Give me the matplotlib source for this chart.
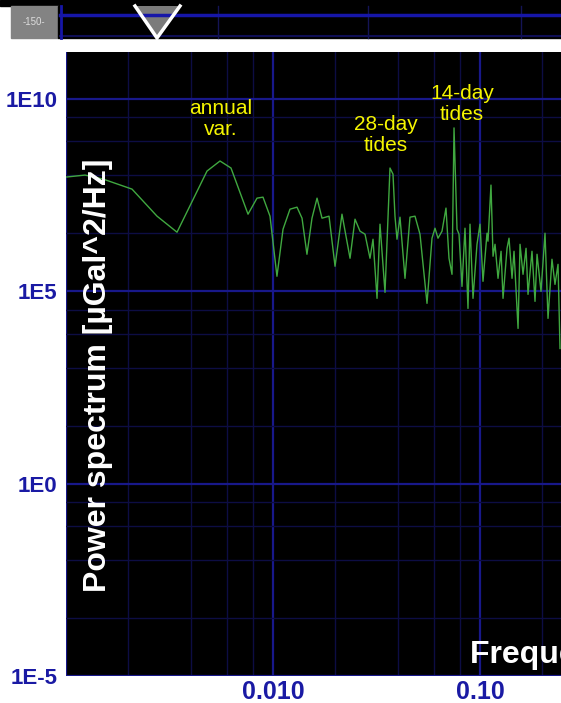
import numpy as np
import matplotlib
matplotlib.use("Agg")
from matplotlib import pyplot as plt
from matplotlib.patches import Rectangle, Polygon
from matplotlib.ticker import NullFormatter

plt.rcParams['font.family'] = ['Liberation Sans', 'DejaVu Sans']

# spectrum (frequency in cycles/day, power in uGal^2/Hz)
freq = [0.001000, 0.001235, 0.001510, 0.002084, 0.002753, 0.003438, 0.004800, 0.005546, 0.006267, 0.007574,
        0.008369, 0.008947, 0.009672, 0.01045, 0.01118, 0.01208, 0.01306, 0.01381, 0.01459, 0.01543,
        0.01632, 0.01725, 0.01865, 0.01994, 0.02154, 0.02356, 0.02490, 0.02633, 0.02783, 0.02942,
        0.03042, 0.03181, 0.03288, 0.03476, 0.03674, 0.03799, 0.03884, 0.03972, 0.04107, 0.04342,
        0.04590, 0.04853, 0.05130, 0.05546, 0.05863, 0.06062, 0.06268, 0.06553, 0.06850, 0.07083,
        0.07324, 0.07490, 0.07744, 0.07918, 0.08185, 0.08463, 0.08750, 0.08948, 0.09252, 0.09672,
        0.1000, 0.1034, 0.1081, 0.1093, 0.1130, 0.1156, 0.1182, 0.1222, 0.1264, 0.1292,
        0.1351, 0.1381, 0.1428, 0.1460, 0.1527, 0.1561, 0.1614, 0.1669, 0.1706, 0.1783,
        0.1844, 0.1886, 0.1971, 0.2061, 0.2131, 0.2227, 0.2303, 0.2382, 0.2435]
power = [9.14e7, 1.03e8, 8.11e7, 4.45e7, 8.81e6, 3.38e6, 1.31e8, 2.39e8, 1.57e8, 9.93e6,
         2.59e7, 2.75e7, 8.81e6, 2.42e5, 4.04e6, 1.34e7, 1.51e7, 7.82e6, 9.03e5, 7.82e6,
         2.59e7, 7.82e6, 8.81e6, 4.40e5, 9.93e6, 7.11e5, 7.36e6, 3.59e6, 3.00e6, 7.11e5,
         2.22e6, 6.46e4, 5.46e6, 9.25e4, 1.57e8, 1.09e8, 8.81e6, 2.22e6, 8.30e6, 2.14e5,
         8.30e6, 8.81e6, 3.00e6, 4.79e4, 2.36e6, 4.29e6, 2.36e6, 3.59e6, 1.43e7, 7.11e5,
         2.72e5, 1.73e9, 4.04e6, 3.00e6, 1.32e5, 4.29e6, 3.54e4, 5.46e6, 6.46e4, 1.64e6,
         5.46e6, 1.79e5, 3.18e6, 1.97e6, 5.66e7, 8.02e5, 1.64e6, 2.14e5, 1.08e6, 6.46e4,
         1.29e6, 2.36e6, 2.14e5, 1.08e6, 1.07e4, 1.64e6, 2.72e5, 1.29e6, 8.20e4, 1.08e6,
         5.40e4, 9.03e5, 9.82e4, 3.18e6, 1.95e4, 6.70e5, 1.49e5, 4.95e5, 3.22e3]

y_ticks = [1e-5, 1e0, 1e5, 1e10]
y_tick_labels = ["1E-5", "1E0", "1E5", "1E10"]
x_ticks = [0.01, 0.1]
x_tick_labels = ["0.010", "0.10"]

note_text = ["annual\nvar.", "28-day\ntides", "14-day\ntides"]
note_freq = [0.00561, 0.0352, 0.0818]
note_power = [2.95e9, 1.14e9, 7.2e9]

W, H = 561, 703
fig = plt.figure(figsize=(W / 100, H / 100), dpi=100)
fig.patch.set_facecolor("white")

ax = fig.add_axes([66 / W, (H - 676) / H, (W - 66) / W, (676 - 52) / H])
ax.set_facecolor("black")
ax.set_xscale("log")
ax.set_yscale("log")

# grid: majors at decades (x) / 5 decades (y), minors at 2,4,6,8 fractions
x_major = [0.001, 0.01, 0.1, 1.0]
x_minor = [k * d for d in [0.001, 0.01, 0.1] for k in [2, 4, 6, 8]]
y_minor = [10 ** (5 * n + 5 * np.log10(k)) for n in [-1, 0, 1, 2] for k in [2, 4, 6, 8]]
ax.set_xticks(x_major)
ax.set_xticks(x_minor, minor=True)
ax.set_yticks(y_ticks)
ax.set_yticks(y_minor, minor=True)
ax.xaxis.set_minor_formatter(NullFormatter())
ax.yaxis.set_minor_formatter(NullFormatter())
ax.grid(which="minor", color="#0d0d44", lw=1.0)
ax.grid(which="major", color="#18188a", lw=1.6)
ax.set_axisbelow(True)
ax.tick_params(which="both", length=0)
ax.set_xticklabels([])
ax.set_yticklabels(y_tick_labels, color="#1a1aa4", fontsize=16, fontweight="bold")
ax.tick_params(axis="y", pad=6)
for s in ax.spines.values():
    s.set_visible(False)

ax.plot(freq, power, color="#40a840", lw=1.0)

ax.set_xlim(0.001, 10 ** (-3 + 495 / 207))
ax.set_ylim(1e-5, 10 ** 11.21)

for t, f, p in zip(note_text, note_freq, note_power):
    ax.text(f, p, t, color="#f5f500", fontsize=15, ha="center", va="center", linespacing=1.1)

# x tick labels sit below the plot
for xt, lab in zip(x_ticks, x_tick_labels):
    ax.annotate(lab, xy=(xt, 1e-5), xytext=(0, -11.5), textcoords="offset points",
                ha="center", va="center", color="#1a1aa4", fontsize=18, fontweight="bold",
                annotation_clip=False)

fig.text(98 / W, 1 - 375 / H, "Power spectrum [\u00b5Gal^2/Hz]", rotation=90,
         ha="center", va="center", color="white", fontsize=23, fontweight="bold")
fig.text(470 / W, 1 - 655 / H, "Frequency [cycles/day]", ha="left", va="center",
         color="white", fontsize=23, fontweight="bold")

# top slider strip drawn in pixel coordinates
ov = fig.add_axes([0, 0, 1, 1])
ov.set_xlim(0, W)
ov.set_ylim(H, 0)
ov.axis("off")
ov.add_patch(Rectangle((0, 0), W, 6, color="black"))
ov.add_patch(Rectangle((11, 6), 47, 32, color="#838383"))
ov.text(34, 22, "-150-", color="#dddddd", fontsize=7, ha="center", va="center")
ov.add_patch(Rectangle((58, 6), W - 58, 32, color="black"))
for xv in [218, 368, 521]:
    ov.plot([xv, xv], [6, 38], color="#141455", lw=1)
ov.plot([60, W], [15, 15], color="#1616a8", lw=2.5)
ov.plot([60, W], [36, 36], color="#0e0e55", lw=1.5)
ov.plot([61, 61], [6, 38], color="#1616a8", lw=2)
ov.add_patch(Polygon([(135, 6), (180, 6), (157, 38)], closed=True, fc="#7b7b7b", ec="none"))
ov.plot([135, 157, 180], [6, 38, 6], color="white", lw=2.5, solid_joinstyle="miter")

fig.savefig("out.png", dpi=100, facecolor="white")
